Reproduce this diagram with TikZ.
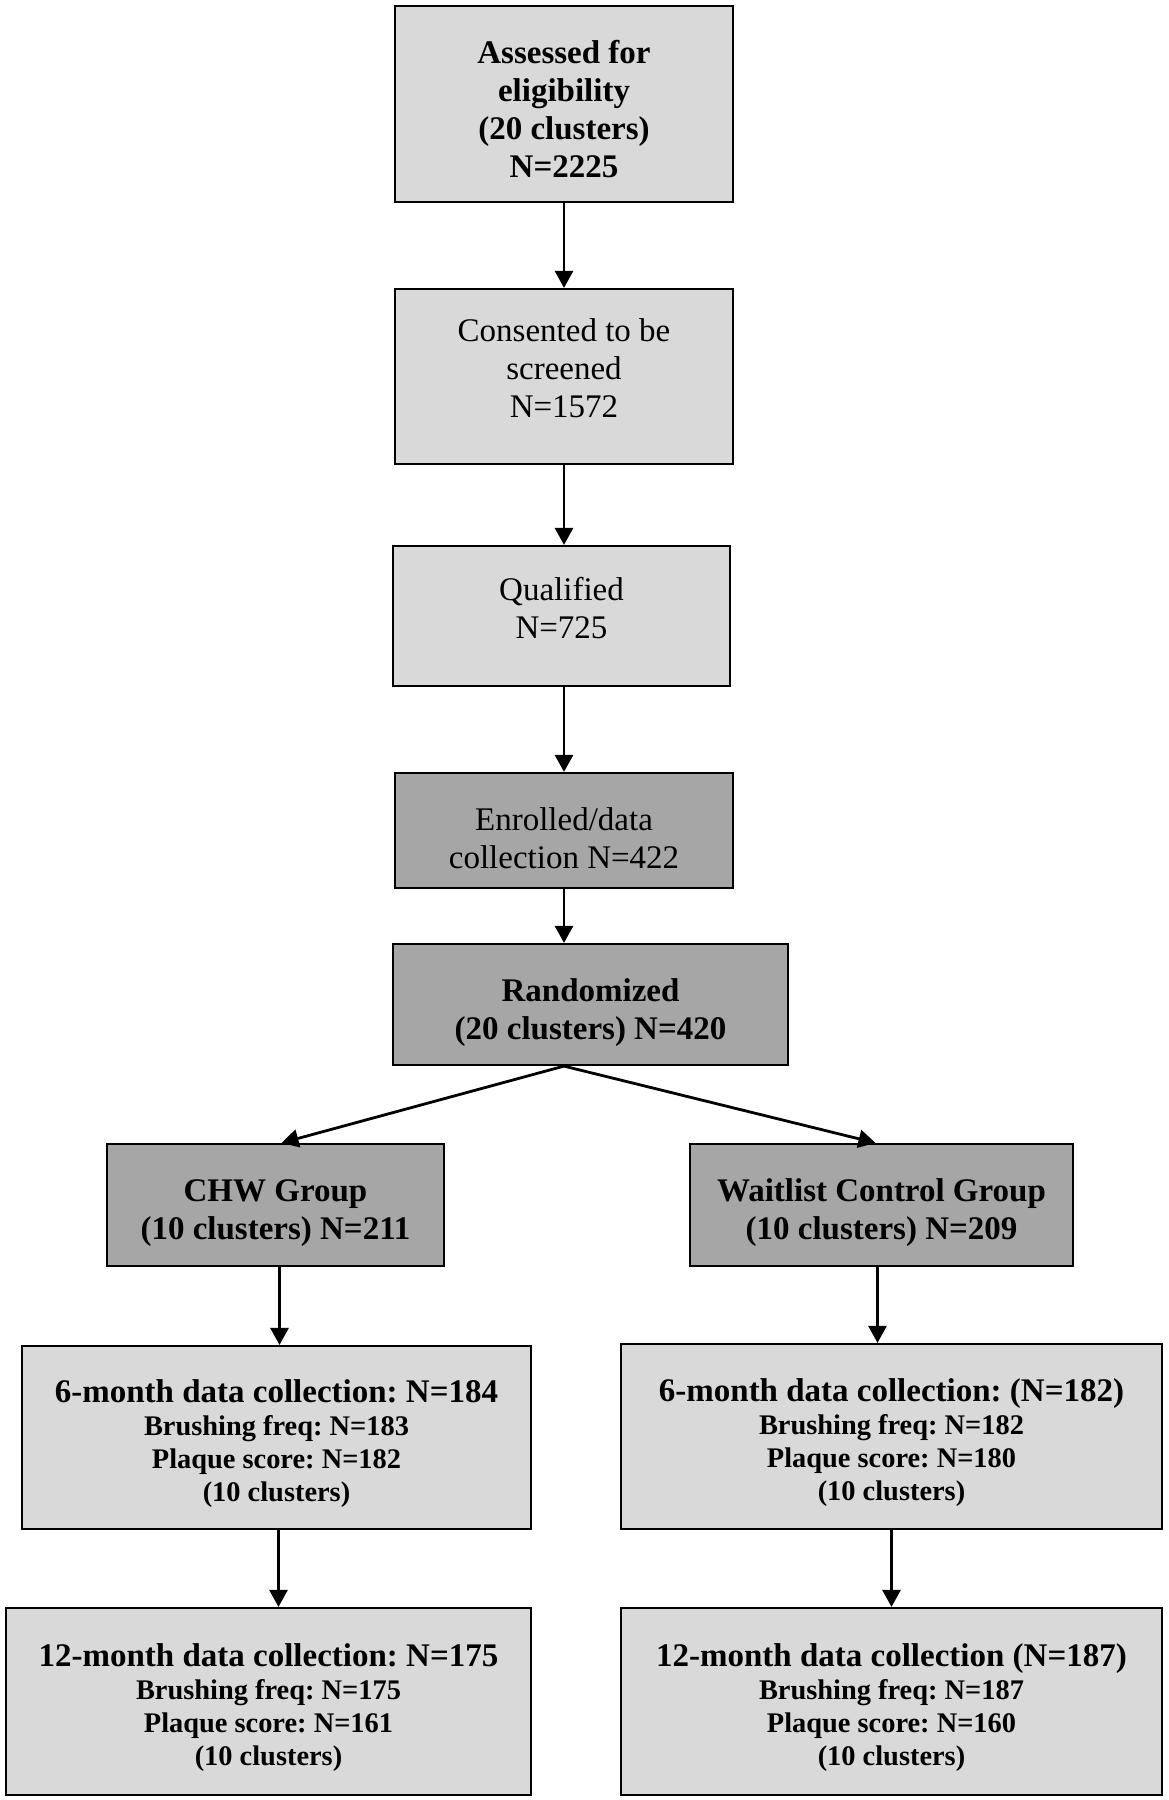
\documentclass[tikz,border=0pt]{standalone}
\usepackage{fontspec}
\setmainfont{Liberation Serif}
\usetikzlibrary{arrows.meta}
\frenchspacing
\definecolor{boxlight}{HTML}{D9D9D9}
\definecolor{boxdark}{HTML}{A6A6A6}
\newcommand{\subtext}{\fontsize{14.2}{16.5}\selectfont}
\newcommand{\titletext}{\rule{0pt}{18pt}}
\newcommand{\headpad}{\rule{0pt}{16.4pt}}
\newcommand{\toppad}{\rule{0pt}{19pt}}
\newcommand{\bottompad}{\rule[-8pt]{0pt}{1pt}}
\tikzset{
  box/.style={draw, line width=1.1pt, inner sep=0pt, align=center, font=\fontsize{16.5}{19}\selectfont},
  lightbox/.style={box, fill=boxlight},
  darkbox/.style={box, fill=boxdark},
  databox/.style={lightbox, text width=240pt, align=flush center, font=\fontsize{16.5}{19}\selectfont\bfseries},
  link/.style={line width=1.4pt, -{Triangle[length=8.5pt,width=9pt]}}
}
\begin{document}
\begin{tikzpicture}[x=0.5pt,y=-0.5pt]
\useasboundingbox[fill=white] (0,0) rectangle (1168,1800);
%main column
\node[lightbox, minimum width=169pt, minimum height=98pt, font=\fontsize{16.5}{19}\selectfont\bfseries] (assess) at (564,104) {\headpad Assessed for\\ eligibility\\ (20 clusters)\\ N=2225};
\node[lightbox, minimum width=169pt, minimum height=87.5pt] (consent) at (564,376.5) {Consented to be\\ screened\\ N=1572\bottompad};
\node[lightbox, minimum width=168.5pt, minimum height=70pt] (qualify) at (561.5,616) {Qualified\\ N=725\bottompad};
\node[darkbox, minimum width=169pt, minimum height=57.5pt] (enrol) at (564,830.5) {\toppad Enrolled/data\\ collection N=422};
\node[darkbox, minimum width=197.5pt, minimum height=60.5pt, font=\fontsize{16.5}{19}\selectfont\bfseries] (random) at (590.5,1004.5) {\toppad Randomized\\ (20 clusters) N=420};
%groups
\node[darkbox, minimum width=168.5pt, minimum height=61pt, font=\fontsize{16.5}{19}\selectfont\bfseries] (chw) at (275.5,1205) {\toppad CHW Group\\ (10 clusters) N=211};
\node[darkbox, minimum width=191.5pt, minimum height=61pt, font=\fontsize{16.5}{19}\selectfont\bfseries] (wait) at (881.5,1205) {\toppad Waitlist Control Group\\ (10 clusters) N=209};
%follow-up
\node[databox, minimum width=254.5pt, minimum height=91.5pt] (sixl) at (276.5,1437.5) {\titletext 6-month data collection: N=184\par\subtext Brushing freq: N=183\\ Plaque score: N=182\\ (10 clusters)\par};
\node[databox, minimum width=270.5pt, minimum height=92.5pt] (sixr) at (891.5,1436.5) {\titletext 6-month data collection: (N=182)\par\subtext Brushing freq: N=182\\ Plaque score: N=180\\ (10 clusters)\par};
\node[databox, minimum width=262.5pt, minimum height=93.5pt] (twelvel) at (268.5,1701.5) {\titletext 12-month data collection: N=175\par\subtext Brushing freq: N=175\\ Plaque score: N=161\\ (10 clusters)\par};
\node[databox, minimum width=270.5pt, minimum height=93.5pt] (twelver) at (891.5,1701.5) {\titletext 12-month data collection (N=187)\par\subtext Brushing freq: N=187\\ Plaque score: N=160\\ (10 clusters)\par};
%arrows
\draw[link] (assess) -- (consent);
\draw[link] (consent.south) -- (consent.south |- qualify.north);
\draw[link] (qualify.south -| enrol.south) -- (enrol.north);
\draw[link] (enrol) -- (enrol.south |- random.north);
\coordinate (split) at (random.south -| enrol.south);
\draw[link] (split) -- ([xshift=3pt]chw.north);
\draw[link] (split) -- ([xshift=-3pt]wait.north);
\draw[link] ([xshift=2pt]chw.south) -- ([xshift=2pt]chw.south |- sixl.north);
\draw[link] ([xshift=-2pt]wait.south) -- ([xshift=-2pt]wait.south |- sixr.north);
\draw[link] ([xshift=1pt]sixl.south) -- ([xshift=1pt]sixl.south |- twelvel.north);
\draw[link] (sixr) -- (twelver);
\end{tikzpicture}
\end{document}
